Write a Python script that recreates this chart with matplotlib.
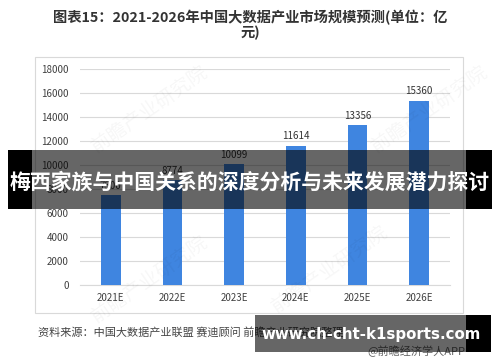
import matplotlib.pyplot as plt
from matplotlib.patches import Rectangle

plt.rcParams['font.family'] = ['Noto Sans CJK SC', 'DejaVu Sans']

years = ["2021E", "2022E", "2023E", "2024E", "2025E", "2026E"]
market_size = [7500, 8774, 10099, 11614, 13356, 15360]
y_ticks = [0, 2000, 4000, 6000, 8000, 10000, 12000, 14000, 16000, 18000]

title = "图表15：2021-2026年中国大数据产业市场规模预测(单位：亿\n元)"
source = "资料来源：中国大数据产业联盟 赛迪顾问 前瞻产业研究院整理"
credit = "@前瞻经济学人APP"
banner = "梅西家族与中国关系的深度分析与未来发展潜力探讨"
site = "www.ch-cht-k1sports.com"

W, H = 500, 362
fig = plt.figure(figsize=(W / 100, H / 100), dpi=100)
fig.patch.set_facecolor("white")

def fx(x):
    return x / W

def fy(y):
    return 1 - y / H

# chart frame
fig.patches.append(Rectangle((fx(35), fy(313)), fx(463) - fx(35), fy(57) - fy(313),
                             transform=fig.transFigure, fill=False,
                             edgecolor="#d9d9d9", linewidth=0.8, zorder=0))

ax = fig.add_axes([fx(80), fy(285), fx(450) - fx(80), fy(69) - fy(285)])
x = range(len(years))
ax.bar(x, market_size, width=0.32, color="#3f85e0", zorder=3)
for i, v in enumerate(market_size):
    ax.text(i, v + 350, str(v), ha="center", va="bottom", fontsize=7, color="#333333")

ax.set_ylim(0, 18000)
ax.set_xlim(-0.5, len(years) - 0.5)
ax.set_yticks(y_ticks)
ax.set_yticklabels([str(t) for t in y_ticks], fontsize=7, color="#404040")
ax.set_xticks(list(x))
ax.set_xticklabels(years, fontsize=7, color="#404040")
ax.tick_params(axis="both", length=0)
ax.tick_params(axis="y", pad=8)
ax.tick_params(axis="x", pad=6)
ax.grid(axis="y", color="#d9d9d9", linewidth=0.8, zorder=0)
for s in ["top", "right", "left"]:
    ax.spines[s].set_visible(False)
ax.spines["bottom"].set_color("#d9d9d9")

# faint watermark
for wx, wy in [(150, 110), (430, 110), (150, 280), (330, 270)]:
    fig.text(fx(wx), fy(wy), "前瞻产业研究院", fontsize=14, color="#000000", alpha=0.035,
             rotation=35, ha="center", va="center")

fig.text(0.5, fy(25), title, ha="center", va="center", fontsize=10.3,
         fontweight="bold", color="#333333", linespacing=1.0)
fig.text(fx(38), fy(332), source, ha="left", va="center", fontsize=8, color="#444444")
fig.text(fx(465), fy(351), credit, ha="right", va="center", fontsize=8, color="#666666")

# title banner overlay
fig.patches.append(Rectangle((fx(8), fy(209)), fx(492) - fx(8), fy(150) - fy(209),
                             transform=fig.transFigure, facecolor="black", alpha=0.6,
                             edgecolor="none", zorder=10))
fig.patches.append(Rectangle((fx(8), fy(209)), fx(32) - fx(8), fy(150) - fy(209),
                             transform=fig.transFigure, facecolor="black",
                             edgecolor="none", zorder=10))
fig.patches.append(Rectangle((fx(466), fy(209)), fx(492) - fx(466), fy(150) - fy(209),
                             transform=fig.transFigure, facecolor="black",
                             edgecolor="none", zorder=10))
fig.text(0.5, fy(182), banner, ha="center", va="center", fontsize=15,
         fontweight="bold", color="white", zorder=11)

# site overlay
fig.patches.append(Rectangle((fx(255), fy(352)), fx(491) - fx(255), fy(315) - fy(352),
                             transform=fig.transFigure, facecolor="black", alpha=0.6,
                             edgecolor="none", zorder=10))
fig.patches.append(Rectangle((fx(466), fy(352)), fx(491) - fx(466), fy(315) - fy(352),
                             transform=fig.transFigure, facecolor="black",
                             edgecolor="none", zorder=10))
fig.text(fx(371), fy(335), site, ha="center", va="center", fontsize=10.8,
         fontweight="bold", color="white", family="DejaVu Sans", zorder=11)

fig.savefig("out.png", dpi=100)
